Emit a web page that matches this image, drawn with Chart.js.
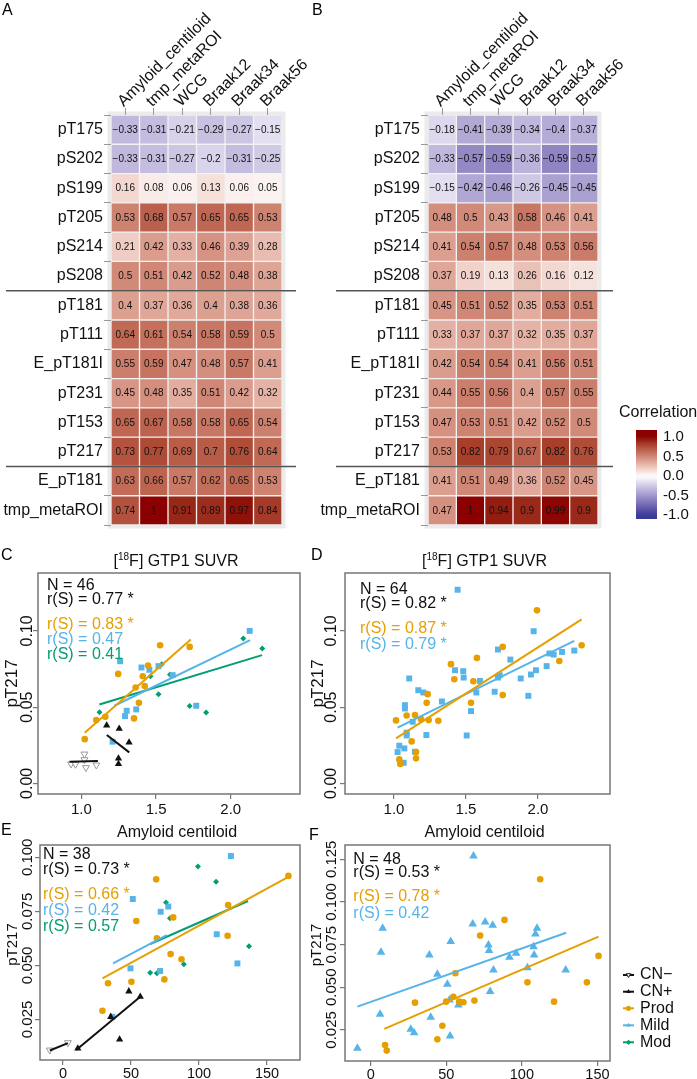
<!DOCTYPE html>
<html lang="en">
<head>
<meta charset="UTF-8">
<meta name="viewport" content="width=device-width, initial-scale=1.0">
<title>pTau correlations</title>
<script src="https://cdn.jsdelivr.net/npm/chart.js@4.4.1/dist/chart.umd.min.js"></script>
<style>
  body { margin: 0; background: #fff; }
  #fig { position: relative; width: 697px; height: 1079px; overflow: hidden; font-family: "Liberation Sans", Arial, sans-serif; }
  #fig canvas { position: absolute; }
  .tag { position: absolute; font-size: 16px; line-height: 16px; color: #000; }
</style>
</head>
<body>
<div id="fig">
  <canvas id="heatA" width="340" height="540" style="left:0;top:0"></canvas>
  <canvas id="heatB" width="397" height="540" style="left:300px;top:0"></canvas>
  <canvas id="scC" width="305" height="280" style="left:0;top:540px"></canvas>
  <canvas id="scD" width="392" height="280" style="left:305px;top:540px"></canvas>
  <canvas id="scE" width="305" height="259" style="left:0;top:820px"></canvas>
  <canvas id="scF" width="392" height="259" style="left:305px;top:820px"></canvas>
  <div class="tag" style="left:2px;top:2px">A</div>
  <div class="tag" style="left:312px;top:2px">B</div>
  <div class="tag" style="left:1px;top:547px">C</div>
  <div class="tag" style="left:311px;top:547px">D</div>
  <div class="tag" style="left:1px;top:822px">E</div>
  <div class="tag" style="left:309px;top:827px">F</div>
</div>
<script>
const FONT = '"Liberation Sans", Arial, sans-serif';
Chart.defaults.font.family = FONT;
Chart.defaults.color = '#111';

// ---- heatmaps (A: first cohort, B: second cohort) ----
const colLabels = ['Amyloid_centiloid', 'tmp_metaROI', 'WCG', 'Braak12', 'Braak34', 'Braak56'];
const rowLabels = ['pT175', 'pS202', 'pS199', 'pT205', 'pS214', 'pS208', 'pT181', 'pT111',
                   'E_pT181I', 'pT231', 'pT153', 'pT217', 'E_pT181', 'tmp_metaROI'];
const corrA = [
  [-0.33, -0.31, -0.21, -0.29, -0.27, -0.15],
  [-0.33, -0.31, -0.27, -0.2, -0.31, -0.25],
  [0.16, 0.08, 0.06, 0.13, 0.06, 0.05],
  [0.53, 0.68, 0.57, 0.65, 0.65, 0.53],
  [0.21, 0.42, 0.33, 0.46, 0.39, 0.28],
  [0.5, 0.51, 0.42, 0.52, 0.48, 0.38],
  [0.4, 0.37, 0.36, 0.4, 0.38, 0.36],
  [0.64, 0.61, 0.54, 0.58, 0.59, 0.5],
  [0.55, 0.59, 0.47, 0.48, 0.57, 0.41],
  [0.45, 0.48, 0.35, 0.51, 0.42, 0.32],
  [0.65, 0.67, 0.58, 0.58, 0.65, 0.54],
  [0.73, 0.77, 0.69, 0.7, 0.76, 0.64],
  [0.63, 0.66, 0.57, 0.62, 0.65, 0.53],
  [0.74, 1, 0.91, 0.89, 0.97, 0.84]
];
const corrB = [
  [-0.18, -0.41, -0.39, -0.34, -0.4, -0.37],
  [-0.33, -0.57, -0.59, -0.36, -0.59, -0.57],
  [-0.15, -0.42, -0.46, -0.26, -0.45, -0.45],
  [0.48, 0.5, 0.43, 0.58, 0.46, 0.41],
  [0.41, 0.54, 0.57, 0.48, 0.53, 0.56],
  [0.37, 0.19, 0.13, 0.26, 0.16, 0.12],
  [0.45, 0.51, 0.52, 0.35, 0.53, 0.51],
  [0.33, 0.37, 0.37, 0.32, 0.35, 0.37],
  [0.42, 0.54, 0.54, 0.41, 0.56, 0.51],
  [0.44, 0.55, 0.56, 0.4, 0.57, 0.55],
  [0.47, 0.53, 0.51, 0.42, 0.52, 0.5],
  [0.53, 0.82, 0.79, 0.67, 0.82, 0.76],
  [0.41, 0.51, 0.49, 0.36, 0.52, 0.45],
  [0.47, 1, 0.94, 0.9, 0.99, 0.9]
];
const groupBreaks = [5, 11];           // lines drawn below these rows
const legendTicks = [1.0, 0.5, 0.0, -0.5, -1.0];

// ---- scatter panels ----
// C: GTP1 SUVR, cohort 1
const cNegX = [0.93, 0.96, 1.02, 1.02, 1.03, 1.10];
const cNegY = [0.0127, 0.0125, 0.0192, 0.0155, 0.0103, 0.012];
const cNegFit = { x: [0.92, 1.11], y: [0.0142, 0.0146] };
const cPosX = [1.169, 1.253, 1.319, 1.248, 1.248];
const cPosY = [0.038, 0.0358, 0.0269, 0.0164, 0.0127];
const cPosFit = { x: [1.17, 1.32], y: [0.0317, 0.0203] };
const cProdX = [1.022, 1.099, 1.160, 1.246, 1.363, 1.411, 1.424, 1.446, 1.527, 1.385, 1.352, 1.725];
const cProdY = [0.029, 0.0415, 0.0437, 0.0718, 0.0629, 0.0703, 0.0638, 0.0773, 0.0906, 0.0528, 0.0426, 0.0895];
const cProdFit = { x: [1.022, 1.732], y: [0.0332, 0.0943] };
const cMildX = [1.259, 1.402, 1.455, 1.516, 1.611, 1.303, 1.292, 1.367, 1.769, 2.127, 1.209];
const cMildY = [0.0801, 0.076, 0.0745, 0.0769, 0.071, 0.0476, 0.0441, 0.0485, 0.0509, 0.1, 0.0273];
const cMildFit = { x: [1.22, 2.13], y: [0.0509, 0.0939] };
const cModX = [1.121, 1.462, 1.538, 1.593, 1.516, 1.725, 1.835, 2.084, 2.211];
const cModY = [0.0467, 0.0703, 0.0782, 0.0714, 0.0585, 0.0507, 0.0465, 0.095, 0.0884];
const cModFit = { x: [1.12, 2.21], y: [0.0517, 0.0841] };

// D: GTP1 SUVR, cohort 2
const dProdX = [1.014, 1.037, 1.044, 1.088, 1.123, 1.153, 1.153, 1.146, 1.188, 1.234, 1.227, 1.241,
                1.308, 1.396, 1.419, 1.535, 1.551, 1.576, 1.755, 1.755, 1.993, 2.148, 2.303];
const dProdY = [0.0413, 0.0157, 0.0127, 0.0445, 0.0275, 0.0205, 0.0164, 0.0448, 0.0421, 0.0585, 0.0528, 0.0415,
                0.041, 0.0782, 0.0683, 0.0528, 0.067, 0.0823, 0.0895, 0.0579, 0.1135, 0.0803, 0.0906];
const dProdFit = { x: [1.014, 2.303], y: [0.0295, 0.1076] };
const dMildX = [1.442, 1.106, 1.076, 1.076, 1.169, 1.204, 1.130, 1.088, 1.088, 1.037, 1.025, 1.072, 1.067,
                1.146, 1.225, 1.333, 1.424, 1.481, 1.484, 1.535, 1.505, 1.597, 1.572, 1.722, 1.722, 1.734,
                1.808, 1.699, 1.880, 1.933, 1.951, 1.986, 1.970, 2.060, 2.079, 2.109, 2.167, 2.252];
const dMildY = [0.127, 0.0688, 0.0513, 0.0491, 0.0611, 0.0596, 0.0404, 0.0332, 0.0314, 0.0247, 0.0205, 0.0229, 0.0135,
                0.0207, 0.0317, 0.0537, 0.0742, 0.0736, 0.0694, 0.0474, 0.0314, 0.0672, 0.0596, 0.0878, 0.0694, 0.0709,
                0.0812, 0.0601, 0.0688, 0.0574, 0.0714, 0.0742, 0.0998, 0.0769, 0.0852, 0.0845, 0.0862, 0.0871];
const dMildFit = { x: [1.025, 2.252], y: [0.0365, 0.0934] };

// E: amyloid centiloid, cohort 1
const eNegX = [-9.7, 3.6];
const eNegY = [0.0108, 0.0142];
const eNegFit = { x: [-9.7, 3.6], y: [0.0106, 0.014] };
const ePosX = [48.4, 56.8, 41.6, 35.1, 10.9];
const ePosY = [0.038, 0.0355, 0.0157, 0.0262, 0.0116];
const ePosFit = { x: [9.7, 56.8], y: [0.0108, 0.0355] };
const eProdX = [29.0, 33.1, 50.3, 53.9, 68.5, 69.0, 74.5, 79.1, 81.0, 87.1, 121.4, 121.0, 165.7];
const eProdY = [0.029, 0.0417, 0.0424, 0.0705, 0.0898, 0.0625, 0.0435, 0.0552, 0.0722, 0.0528, 0.0779, 0.0637, 0.0914];
const eProdFit = { x: [29, 165.7], y: [0.044, 0.091] };
const eMildX = [49.6, 51.3, 36.3, 71.4, 71.8, 77.4, 113, 123.4, 128.2];
const eMildY = [0.0486, 0.0807, 0.0262, 0.0474, 0.0748, 0.0772, 0.0644, 0.1006, 0.0509];
const eMildFit = { x: [36.8, 76.2], y: [0.0509, 0.064] };
const eModX = [64.1, 69.0, 75.7, 78.6, 88.8, 99.2, 112.5, 136.7];
const eModY = [0.0466, 0.0463, 0.0791, 0.0718, 0.0505, 0.0957, 0.0887, 0.0589];
const eModFit = { x: [64.1, 136], y: [0.0599, 0.0798] };

// F: amyloid centiloid, cohort 2
const fProdX = [9.5, 10.6, 29.3, 47.4, 44.1, 49.9, 54.7, 56, 58.5, 61.3, 68.6, 72.4, 88.5, 103.7, 112.1, 121.3, 143, 150.7];
const fProdY = [0.0162, 0.0129, 0.041, 0.0275, 0.0195, 0.0416, 0.0445, 0.0582, 0.0416, 0.0412, 0.0422, 0.0803,
                0.0895, 0.0529, 0.1133, 0.0416, 0.0529, 0.0684];
const fProdFit = { x: [9, 150.7], y: [0.0256, 0.0797] };
const fMildX = [68, 7.9, 6.8, -8.8, 6.2, 26.5, 28.7, 38.8, 39.7, 44.1, 50.7, 52.9, 52.5, 52.1, 58, 67.5, 75.7, 80.7,
                77.9, 78.3, 81.2, 79, 91.8, 96.2, 103.7, 107.7, 108.1, 109, 110, 129];
const fMildY = [0.127, 0.0846, 0.0705, 0.0143, 0.0342, 0.0254, 0.0234, 0.0689, 0.0324, 0.0576, 0.0518, 0.0768,
                0.0215, 0.0426, 0.0396, 0.0871, 0.0883, 0.0863, 0.0748, 0.0715, 0.0602, 0.0475, 0.0676, 0.0699,
                0.0615, 0.0738, 0.0689, 0.0812, 0.0846, 0.0602];
const fMildFit = { x: [-8.8, 129.3], y: [0.0387, 0.082] };

const groupNames = ['CN\u2212', 'CN+', 'Prod', 'Mild', 'Mod'];

const ORANGE = '#E69F00', BLUE = '#56B4E9', GREEN = '#009E73', INK = '#111';
const look = {
  neg:  { shape: 'triangle', rot: 180, r: 4, fill: '#fff', edge: '#999', bw: 1, line: INK },
  pos:  { shape: 'triangle', r: 4.2, fill: INK, edge: INK, bw: 0, line: INK },
  prod: { shape: 'circle', r: 3.3, fill: ORANGE, edge: ORANGE, bw: 0, line: ORANGE },
  mild: { shape: 'rect', r: 4.2, fill: BLUE, edge: BLUE, bw: 0, line: BLUE },
  mildTri: { shape: 'triangle', r: 5, fill: BLUE, edge: BLUE, bw: 0, line: BLUE },
  mod:  { shape: 'rectRot', r: 3, fill: GREEN, edge: GREEN, bw: 0, line: GREEN }
};

// colour scale like ggplot gradient2 (interpolated in Lab)
function toLab(hex) {
  const c = [1, 3, 5].map(i => parseInt(hex.substr(i, 2), 16) / 255)
    .map(v => v <= 0.04045 ? v / 12.92 : Math.pow((v + 0.055) / 1.055, 2.4));
  const X = (0.4124 * c[0] + 0.3576 * c[1] + 0.1805 * c[2]) / 0.95047;
  const Y = 0.2126 * c[0] + 0.7152 * c[1] + 0.0722 * c[2];
  const Z = (0.0193 * c[0] + 0.1192 * c[1] + 0.9505 * c[2]) / 1.08883;
  const f = t => t > 0.008856 ? Math.cbrt(t) : 7.787 * t + 16 / 116;
  return [116 * f(Y) - 16, 500 * (f(X) - f(Y)), 200 * (f(Y) - f(Z))];
}
function fromLab(lab) {
  const fy = (lab[0] + 16) / 116, fx = fy + lab[1] / 500, fz = fy - lab[2] / 200;
  const inv = t => t * t * t > 0.008856 ? t * t * t : (t - 16 / 116) / 7.787;
  const X = inv(fx) * 0.95047, Y = inv(fy), Z = inv(fz) * 1.08883;
  const lin = [3.2406 * X - 1.5372 * Y - 0.4986 * Z, -0.9689 * X + 1.8758 * Y + 0.0415 * Z, 0.0557 * X - 0.2040 * Y + 1.0570 * Z];
  return 'rgb(' + lin.map(v => {
    v = Math.max(0, Math.min(1, v));
    v = v <= 0.0031308 ? 12.92 * v : 1.055 * Math.pow(v, 1 / 2.4) - 0.055;
    return Math.round(v * 255);
  }).join(',') + ')';
}
const LOW = toLab('#3A3A98'), MID = toLab('#FFFFFF'), HIGH = toLab('#8B0000');
function corrColor(v) {
  const t = Math.min(1, Math.abs(v)), end = v < 0 ? LOW : HIGH;
  return fromLab(MID.map((m, k) => m + (end[k] - m) * t));
}
const fmtCorr = v => (v < 0 ? '\u2212' : '') + String(Math.abs(v));

function heatDeco(corr, sepX, withLegend) {
  return {
    id: 'heatDeco',
    beforeDraw(chart) {
      const a = chart.chartArea, ctx = chart.ctx;
      ctx.save();
      ctx.fillStyle = '#ebebeb';
      ctx.fillRect(a.left - 3.5, a.top - 3.5, a.width + 7, a.height + 7);
      ctx.restore();
    },
    afterDatasetsDraw(chart) {
      const ctx = chart.ctx, xs = chart.scales.x, ys = chart.scales.y;
      ctx.save();
      ctx.font = '10px ' + FONT;
      ctx.fillStyle = INK;
      ctx.textAlign = 'center';
      ctx.textBaseline = 'middle';
      corr.forEach((row, i) => row.forEach((v, j) => {
        ctx.fillText(fmtCorr(v), xs.getPixelForValue(j + 0.5), ys.getPixelForValue(i) + 0.5);
      }));
      ctx.restore();
    },
    afterDraw(chart) {
      const ctx = chart.ctx, ys = chart.scales.y;
      ctx.save();
      ctx.strokeStyle = '#555';
      ctx.lineWidth = 1.5;
      groupBreaks.forEach(i => {
        const y = (ys.getPixelForValue(i) + ys.getPixelForValue(i + 1)) / 2;
        ctx.beginPath(); ctx.moveTo(sepX[0], y); ctx.lineTo(sepX[1], y); ctx.stroke();
      });
      if (withLegend) {
        // colour bar, value -> y in canvas pixels
        const yOf = v => 476.2 - v * 38.9, top = 430, bot = 519;
        ctx.fillStyle = INK;
        ctx.textAlign = 'left';
        ctx.textBaseline = 'middle';
        ctx.font = '16px ' + FONT;
        ctx.fillText('Correlation', 319, 413);
        const g = ctx.createLinearGradient(0, top, 0, bot);
        for (let k = 0; k <= 30; k++) {
          const y = top + (bot - top) * k / 30;
          g.addColorStop(k / 30, corrColor(Math.max(-1, Math.min(1, (476.2 - y) / 38.9))));
        }
        ctx.fillStyle = g;
        ctx.fillRect(336, top, 21, bot - top);
        ctx.fillStyle = INK;
        ctx.font = '15px ' + FONT;
        legendTicks.forEach(v => ctx.fillText(v.toFixed(1), 363, yOf(v)));
      }
      ctx.restore();
    }
  };
}

function heatmap(id, corr, leftW, rightPad, sepX, withLegend) {
  new Chart(document.getElementById(id), {
    type: 'bar',
    data: {
      labels: rowLabels,
      datasets: colLabels.map((c, j) => ({
        label: c,
        data: corr.map(() => [j, j + 1]),
        backgroundColor: corr.map(row => corrColor(row[j])),
        borderColor: 'rgba(255,255,255,0.3)',
        borderWidth: 1,
        borderSkipped: false,
        barPercentage: 1,
        categoryPercentage: 1,
        grouped: false,
        xAxisID: 'x',
        yAxisID: 'y'
      }))
    },
    options: {
      indexAxis: 'y',
      responsive: false,
      animation: false,
      layout: { padding: { left: 0, right: rightPad, top: 0, bottom: 15 } },
      plugins: { legend: { display: false }, tooltip: { enabled: false } },
      scales: {
        x: { type: 'linear', min: 0, max: 6, display: false },
        xt: {
          type: 'category', labels: colLabels, position: 'top', offset: true,
          grid: { drawOnChartArea: false, tickLength: 7, color: '#999' },
          border: { display: false },
          ticks: { minRotation: 45, maxRotation: 45, autoSkip: false, font: { size: 16 }, color: INK,
                   padding: -3, labelOffset: 9 },
          afterFit: s => { s.height = 115; }
        },
        y: {
          type: 'category', offset: true,
          grid: { drawOnChartArea: false, tickLength: 7, color: '#999' },
          border: { display: false },
          ticks: { autoSkip: false, font: { size: 16 }, color: INK, padding: 1 },
          afterFit: s => { s.width = leftW; }
        }
      }
    },
    plugins: [heatDeco(corr, sepX, withLegend)]
  });
}

heatmap('heatA', corrA, 111, 58, [6, 296], false);
heatmap('heatB', corrB, 128, 99, [36, 313], true);

function marker(ctx, shape, x, y, r, fill, edge) {
  ctx.beginPath();
  if (shape === 'circle') ctx.arc(x, y, r, 0, Math.PI * 2);
  else if (shape === 'rectRot') { ctx.moveTo(x, y - r); ctx.lineTo(x + r, y); ctx.lineTo(x, y + r); ctx.lineTo(x - r, y); }
  else {
    const d = shape === 'down' ? -1 : 1;
    ctx.moveTo(x, y - d * r); ctx.lineTo(x + r * 0.87, y + d * r * 0.5); ctx.lineTo(x - r * 0.87, y + d * r * 0.5);
  }
  ctx.closePath();
  ctx.fillStyle = fill;
  ctx.fill();
  if (edge) { ctx.strokeStyle = edge; ctx.lineWidth = 1; ctx.stroke(); }
}

function scatterDeco(p) {
  return {
    id: 'scatterDeco',
    afterDraw(chart) {
      const ctx = chart.ctx, a = chart.chartArea, ys = chart.scales.y;
      ctx.save();
      ctx.strokeStyle = '#777';
      ctx.lineWidth = 1.5;
      ctx.strokeRect(a.left, a.top, a.right - a.left, a.bottom - a.top);

      ctx.fillStyle = INK;
      ctx.textAlign = 'center';
      ctx.textBaseline = 'middle';
      ctx.font = p.yFont + 'px ' + FONT;
      ys.ticks.forEach(t => {
        ctx.save();
        ctx.translate(a.left - p.yTickOff, ys.getPixelForValue(t.value));
        ctx.rotate(-Math.PI / 2);
        ctx.fillText(t.value.toFixed(p.yDec), 0, 0);
        ctx.restore();
      });
      ctx.save();
      ctx.font = p.yTitleFont + 'px ' + FONT;
      ctx.translate(a.left - p.yLabOff, (a.top + a.bottom) / 2 + p.yTitleDy);
      ctx.rotate(-Math.PI / 2);
      ctx.fillText(p.yTitle, 0, 0);
      ctx.restore();

      // title, with optional superscript piece
      const cx = (a.left + a.right) / 2 + 7;
      const big = '16px ' + FONT, small = '10px ' + FONT;
      ctx.font = big;
      const w0 = ctx.measureText(p.title[0]).width, w2 = ctx.measureText(p.title[2]).width;
      ctx.font = small;
      const w1 = ctx.measureText(p.title[1]).width;
      let x = cx - (w0 + w1 + w2) / 2;
      ctx.textAlign = 'left';
      ctx.font = big; ctx.fillText(p.title[0], x, p.titleY); x += w0;
      ctx.font = small; ctx.fillText(p.title[1], x, p.titleY - 5); x += w1;
      ctx.font = big; ctx.fillText(p.title[2], x, p.titleY);

      ctx.font = '16px ' + FONT;
      p.notes.forEach(n => { ctx.fillStyle = n[1]; ctx.fillText(n[0], n[2], n[3]); });

      if (p.legend) {
        const keys = ['neg', 'pos', 'prod', 'mildTri', 'mod'];
        const ly = [155, 171.7, 188.3, 205.3, 222.3];
        keys.forEach((k, i) => {
          const s = look[k];
          ctx.strokeStyle = s.line; ctx.lineWidth = 2;
          ctx.beginPath(); ctx.moveTo(318, ly[i]); ctx.lineTo(329, ly[i]); ctx.stroke();
          const shape = k === 'neg' ? 'down' : (k === 'prod' ? 'circle' : (k === 'mod' ? 'rectRot' : 'up'));
          marker(ctx, shape, 323.5, ly[i], 2.6, k === 'neg' ? '#fff' : s.fill, k === 'neg' ? INK : null);
          ctx.fillStyle = INK;
          ctx.fillText(groupNames[i], 335, ly[i]);
        });
      }
      ctx.restore();
    }
  };
}

function scatterChart(id, p) {
  const ds = [];
  p.groups.forEach(g => {
    const s = look[g.look];
    ds.push({
      type: 'scatter', order: 2,
      data: g.x.map((x, i) => ({ x: x, y: g.y[i] })),
      pointStyle: s.shape, pointRotation: s.rot || 0, pointRadius: s.r, pointHoverRadius: s.r,
      backgroundColor: s.fill, borderColor: s.edge, borderWidth: s.bw
    });
    if (g.fit) ds.push({
      type: 'line', order: 1,
      data: g.fit.x.map((x, i) => ({ x: x, y: g.fit.y[i] })),
      borderColor: s.line, borderWidth: 2, pointRadius: 0, fill: false, tension: 0
    });
  });
  const axis = (min, max, ticks, extra) => Object.assign({
    type: 'linear', min: min, max: max, bounds: 'data',
    afterBuildTicks: sc => { sc.ticks = ticks.map(v => ({ value: v })); },
    grid: { drawOnChartArea: false, drawTicks: true, tickLength: 5, color: '#777', lineWidth: 1.2 },
    border: { display: false }
  }, extra);
  new Chart(document.getElementById(id), {
    type: 'scatter',
    data: { datasets: ds },
    options: {
      responsive: false,
      animation: false,
      layout: { padding: { left: 0, top: p.area.top, right: p.area.right, bottom: 0 } },
      plugins: { legend: { display: false }, tooltip: { enabled: false } },
      scales: {
        x: axis(p.xMin, p.xMax, p.xTicks, {
          ticks: { callback: v => v.toFixed(p.xDec), font: { size: p.xFont }, color: INK, padding: p.area.xPad, maxRotation: 0, autoSkip: false },
          afterFit: sc => { sc.height = p.area.xH; }
        }),
        y: axis(p.yMin, p.yMax, p.yTicks, {
          ticks: { display: false },
          afterFit: sc => { sc.width = p.area.left; }
        })
      }
    },
    plugins: [scatterDeco(p)]
  });
}

const gtpTitle = ['[', '18', 'F] GTP1 SUVR'];
const amyTitle = ['Amyloid centiloid', '', ''];

scatterChart('scC', {
  area: { left: 38, top: 33, right: 2, xH: 26, xPad: 2 },
  xMin: 0.709, xMax: 2.464, xTicks: [1.0, 1.5, 2.0], xDec: 1, xFont: 15,
  yMin: -0.007, yMax: 0.138, yTicks: [0, 0.05, 0.10], yDec: 2, yFont: 16,
  yTickOff: 10.5, yLabOff: 25.5, yTitle: 'pT217', yTitleFont: 17, yTitleDy: 0, title: gtpTitle, titleY: 22,
  groups: [
    { look: 'neg', x: cNegX, y: cNegY, fit: cNegFit },
    { look: 'pos', x: cPosX, y: cPosY, fit: cPosFit },
    { look: 'prod', x: cProdX, y: cProdY, fit: cProdFit },
    { look: 'mild', x: cMildX, y: cMildY, fit: cMildFit },
    { look: 'mod', x: cModX, y: cModY, fit: cModFit }
  ],
  notes: [['N = 46', INK, 47, 45.7], ['r(S) = 0.77 *', INK, 47, 60],
          ['r(S) = 0.83 *', ORANGE, 47, 85], ['r(S) = 0.47', BLUE, 47, 100], ['r(S) = 0.41', GREEN, 47, 115]]
});

scatterChart('scD', {
  area: { left: 40, top: 33, right: 87, xH: 26, xPad: 2 },
  xMin: 0.66, xMax: 2.5, xTicks: [1.0, 1.5, 2.0], xDec: 1, xFont: 15,
  yMin: -0.007, yMax: 0.138, yTicks: [0, 0.05, 0.10], yDec: 2, yFont: 16,
  yTickOff: 13, yLabOff: 27, yTitle: 'pT217', yTitleFont: 17, yTitleDy: 0, title: gtpTitle, titleY: 22,
  groups: [
    { look: 'prod', x: dProdX, y: dProdY, fit: dProdFit },
    { look: 'mild', x: dMildX, y: dMildY, fit: dMildFit }
  ],
  notes: [['N = 64', INK, 55, 50], ['r(S) = 0.82 *', INK, 55, 63.3],
          ['r(S) = 0.87 *', ORANGE, 55, 88.3], ['r(S) = 0.79 *', BLUE, 55, 104.3]]
});

scatterChart('scE', {
  area: { left: 40, top: 25, right: 2, xH: 19, xPad: 0 },
  xMin: -16.9, xMax: 174.2, xTicks: [0, 50, 100, 150], xDec: 0, xFont: 14.5,
  yMin: 0.0062, yMax: 0.1057, yTicks: [0.025, 0.05, 0.075, 0.1], yDec: 3, yFont: 15,
  yTickOff: 12.5, yLabOff: 27, yTitle: 'pT217', yTitleFont: 15, yTitleDy: -8, title: amyTitle, titleY: 13,
  groups: [
    { look: 'neg', x: eNegX, y: eNegY, fit: eNegFit },
    { look: 'pos', x: ePosX, y: ePosY, fit: ePosFit },
    { look: 'prod', x: eProdX, y: eProdY, fit: eProdFit },
    { look: 'mild', x: eMildX, y: eMildY, fit: eMildFit },
    { look: 'mod', x: eModX, y: eModY, fit: eModFit }
  ],
  notes: [['N = 38', INK, 43, 35], ['r(S) = 0.73 *', INK, 43, 49.3],
          ['r(S) = 0.66 *', ORANGE, 43, 75], ['r(S) = 0.42', BLUE, 43, 90.7], ['r(S) = 0.57', GREEN, 43, 106.7]]
});

scatterChart('scF', {
  area: { left: 40, top: 25, right: 87, xH: 18, xPad: 0 },
  xMin: -17, xMax: 158.3, xTicks: [0, 50, 100, 150], xDec: 0, xFont: 14.5,
  yMin: 0.0068, yMax: 0.1334, yTicks: [0.025, 0.05, 0.075, 0.1, 0.125], yDec: 3, yFont: 15,
  yTickOff: 13, yLabOff: 28, yTitle: 'pT217', yTitleFont: 15, yTitleDy: -8, title: amyTitle, titleY: 13,
  groups: [
    { look: 'prod', x: fProdX, y: fProdY, fit: fProdFit },
    { look: 'mildTri', x: fMildX, y: fMildY, fit: fMildFit }
  ],
  notes: [['N = 48', INK, 48.3, 40], ['r(S) = 0.53 *', INK, 48.3, 52.7],
          ['r(S) = 0.78 *', ORANGE, 48.3, 76.7], ['r(S) = 0.42', BLUE, 48.3, 94]],
  legend: true
});
</script>
</body>
</html>
